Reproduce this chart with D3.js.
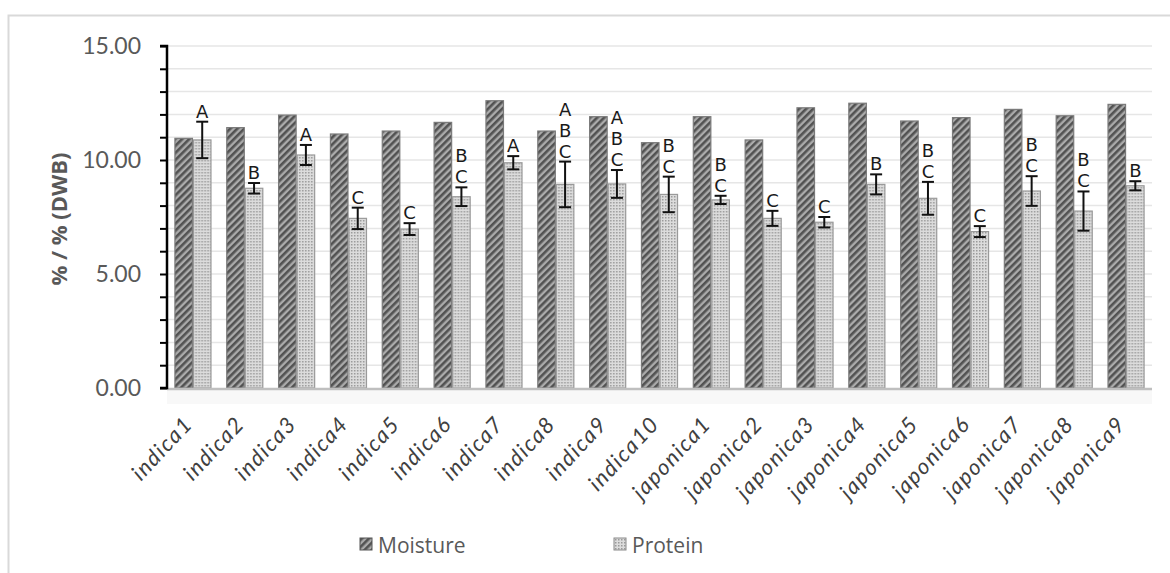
<!DOCTYPE html>
<html>
<head>
<meta charset="utf-8">
<script src="https://cdn.jsdelivr.net/npm/d3@7"></script>
<style>
  body { margin: 0; background: #fff; }
  svg { display: block; }
</style>
</head>
<body>
<div id="chart"></div>
<script>
// rice varieties
const categories = ['indica1', 'indica2', 'indica3', 'indica4', 'indica5', 'indica6', 'indica7', 'indica8', 'indica9', 'indica10',
  'japonica1', 'japonica2', 'japonica3', 'japonica4', 'japonica5', 'japonica6', 'japonica7', 'japonica8', 'japonica9'];
const moisture = [10.95, 11.42, 11.97, 11.14, 11.27, 11.65, 12.6, 11.27, 11.9, 10.76,
  11.9, 10.88, 12.29, 12.49, 11.71, 11.86, 12.22, 11.94, 12.44];
const protein = [10.88, 8.76, 10.22, 7.44, 6.97, 8.39, 9.88, 8.93, 8.95, 8.49,
  8.25, 7.44, 7.27, 8.93, 8.32, 6.86, 8.64, 7.76, 8.87];
const proteinErr = [0.8, 0.23, 0.44, 0.47, 0.26, 0.41, 0.29, 1.0, 0.61, 0.78,
  0.18, 0.33, 0.23, 0.44, 0.72, 0.24, 0.65, 0.86, 0.2];
const letters = ['A', 'B', 'A', 'C', 'C', 'BC', 'A', 'ABC', 'ABC', 'BC',
  'BC', 'C', 'C', 'B', 'BC', 'C', 'BC', 'BC', 'B'];
const series = ['Moisture', 'Protein'];
const yTicks = [0, 5, 10, 15];

const W = 1170, H = 573;
const margin = { top: 46, right: 18, bottom: 185, left: 167 };
const width = W - margin.left - margin.right,
  height = H - margin.top - margin.bottom;

const svg = d3.select('#chart').append('svg')
  .attr('width', W)
  .attr('height', H);

// fill patterns
const defs = svg.append('defs');
const stripes = defs.append('pattern')
  .attr('id', 'stripes')
  .attr('patternUnits', 'userSpaceOnUse')
  .attr('width', 5)
  .attr('height', 5)
  .attr('patternTransform', 'rotate(45)');
stripes.append('rect').attr('width', 5).attr('height', 5).attr('fill', '#ababab');
stripes.append('rect').attr('width', 2.6).attr('height', 5).attr('fill', '#525252');

const dots = defs.append('pattern')
  .attr('id', 'dots')
  .attr('patternUnits', 'userSpaceOnUse')
  .attr('width', 3)
  .attr('height', 3);
dots.append('rect').attr('width', 3).attr('height', 3).attr('fill', '#dcdcdc');
dots.append('rect').attr('width', 1.5).attr('height', 1.5).attr('fill', '#9a9a9a');

// chart border
svg.append('rect')
  .attr('x', 8.5)
  .attr('y', 15.5)
  .attr('width', 1200)
  .attr('height', 600)
  .attr('fill', 'none')
  .attr('stroke', '#d9d9d9')
  .attr('stroke-width', 2);

const g = svg.append('g')
  .attr('transform', 'translate(' + margin.left + ',' + margin.top + ')');

const x0 = d3.scaleBand().domain(categories).range([0, width]).paddingInner(0.285).paddingOuter(0.143);
const x1 = d3.scaleBand().domain(series).range([0, x0.bandwidth()]);
const y = d3.scaleLinear().domain([0, 15]).range([height, 0]);

// light band under the plot
g.append('rect')
  .attr('x', 0).attr('y', height)
  .attr('width', width).attr('height', 16)
  .attr('fill', '#f8f8f8');

// gridlines
g.append('g')
  .selectAll('line')
  .data(d3.range(1, 16))
  .join('line')
  .attr('x1', 0)
  .attr('x2', width)
  .attr('y1', d => y(d))
  .attr('y2', d => y(d))
  .attr('stroke', '#e6e6e6')
  .attr('stroke-width', 1.5);

// bars
const groups = g.append('g')
  .selectAll('g')
  .data(categories)
  .join('g')
  .attr('transform', d => 'translate(' + x0(d) + ',0)');

groups.append('rect')
  .attr('x', x1('Moisture') + 0.5)
  .attr('y', (d, i) => y(moisture[i]))
  .attr('width', x1.bandwidth() - 1)
  .attr('height', (d, i) => height - y(moisture[i]))
  .attr('fill', 'url(#stripes)')
  .attr('stroke', '#7a7a7a')
  .attr('stroke-width', 1.2);

groups.append('rect')
  .attr('x', x1('Protein') + 0.5)
  .attr('y', (d, i) => y(protein[i]))
  .attr('width', x1.bandwidth() - 1)
  .attr('height', (d, i) => height - y(protein[i]))
  .attr('fill', 'url(#dots)')
  .attr('stroke', '#9a9a9a')
  .attr('stroke-width', 1.2);

// error bars
const pc = x1('Protein') + x1.bandwidth() / 2;
const err = groups.append('g').attr('stroke', '#111').attr('stroke-width', 2);
err.append('line')
  .attr('x1', pc).attr('x2', pc)
  .attr('y1', (d, i) => y(protein[i] + proteinErr[i]))
  .attr('y2', (d, i) => y(protein[i] - proteinErr[i]));
err.append('line')
  .attr('x1', pc - 6).attr('x2', pc + 6)
  .attr('y1', (d, i) => y(protein[i] + proteinErr[i]))
  .attr('y2', (d, i) => y(protein[i] + proteinErr[i]));
err.append('line')
  .attr('x1', pc - 6).attr('x2', pc + 6)
  .attr('y1', (d, i) => y(protein[i] - proteinErr[i]))
  .attr('y2', (d, i) => y(protein[i] - proteinErr[i]));

// significance letters, stacked
groups.each(function(d, i) {
  const chars = letters[i].split('');
  const top = y(protein[i] + proteinErr[i]);
  d3.select(this).selectAll('text.sig')
    .data(chars)
    .join('text')
    .attr('class', 'sig')
    .attr('x', pc)
    .attr('y', (c, k) => top - 4 - (chars.length - 1 - k) * 21)
    .attr('text-anchor', 'middle')
    .attr('font-family', '"DejaVu Sans", sans-serif')
    .attr('font-size', 18)
    .attr('fill', '#1a1a1a')
    .text(c => c);
});

// baseline
g.append('line')
  .attr('x1', 0).attr('x2', width)
  .attr('y1', height + 1).attr('y2', height + 1)
  .attr('stroke', '#bfbfbf')
  .attr('stroke-width', 2.5);

// y axis
const yAxis = d3.axisLeft(y)
  .tickValues(d3.range(0, 16))
  .tickSize(7)
  .tickFormat(d => yTicks.includes(d) ? d3.format('.2f')(d) : '');
const ya = g.append('g').call(yAxis);
ya.select('.domain').attr('stroke', '#000').attr('stroke-width', 2.5).attr('d', 'M-7,0H0V' + height + 'H-7');
ya.selectAll('.tick line').attr('stroke', '#000').attr('stroke-width', 2);
ya.selectAll('.tick text')
  .attr('x', -26)
  .attr('font-family', 'Lato, sans-serif')
  .attr('font-size', 23)
  .attr('fill', '#595959');

// y title
svg.append('text')
  .attr('transform', 'translate(67,' + (margin.top + height / 2 + 2) + ') rotate(-90)')
  .attr('text-anchor', 'middle')
  .attr('font-family', '"Open Sans", sans-serif')
  .attr('font-weight', 'bold')
  .attr('font-size', 22)
  .attr('fill', '#595959')
  .text('% / % (DWB)');

// x labels
g.append('g')
  .selectAll('text')
  .data(categories)
  .join('text')
  .attr('transform', d => 'translate(' + (x0(d) + x0.bandwidth() / 2 + 1) + ',' + (height + 37) + ') rotate(-47)')
  .attr('text-anchor', 'end')
  .attr('font-family', 'Lato, sans-serif')
  .attr('font-style', 'italic')
  .attr('font-size', 22)
  .attr('letter-spacing', 1.5)
  .attr('fill', '#404040')
  .text(d => d);

// legend
const legend = svg.append('g').attr('transform', 'translate(0,545)');
const legendX = [360, 614];
series.forEach((s, k) => {
  legend.append('rect')
    .attr('x', legendX[k]).attr('y', -7)
    .attr('width', 12).attr('height', 12)
    .attr('fill', k === 0 ? 'url(#stripes)' : 'url(#dots)')
    .attr('stroke', k === 0 ? '#555' : '#8a8a8a');
  legend.append('text')
    .attr('x', legendX[k] + 18)
    .attr('y', 8)
    .attr('font-family', '"Open Sans", sans-serif')
    .attr('font-size', 21)
    .attr('fill', '#595959')
    .text(s);
});
</script>
</body>
</html>
